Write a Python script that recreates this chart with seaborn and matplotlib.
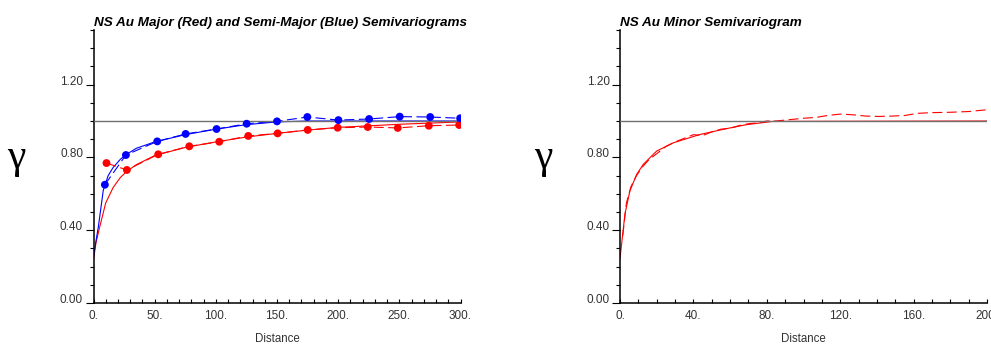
import matplotlib
matplotlib.use("Agg")
import matplotlib.pyplot as plt
import seaborn as sns
from matplotlib.ticker import MultipleLocator

# ---------------- data ----------------
major_lag = [10.6, 27.3, 52.9, 78.3, 102.8, 126.5, 150.5, 175.1, 199.6, 224.2, 248.7, 274.1, 298.9]
major_gam = [0.769, 0.731, 0.817, 0.861, 0.886, 0.918, 0.932, 0.951, 0.963, 0.967, 0.962, 0.974, 0.978]
semi_lag = [9.3, 26.5, 52.1, 75.3, 100.6, 125.2, 150.0, 174.8, 200.2, 225.3, 250.3, 275.2, 299.7]
semi_gam = [0.650, 0.813, 0.888, 0.929, 0.956, 0.985, 0.998, 1.022, 1.005, 1.011, 1.024, 1.022, 1.015]

major_model_x = [0, 2, 5, 10, 16, 22, 27, 35, 50, 75, 100, 125, 150, 175, 200, 250, 300]
major_model_y = [0.238, 0.33, 0.416, 0.55, 0.634, 0.69, 0.722, 0.76, 0.81, 0.855, 0.885, 0.912,
                 0.932, 0.95, 0.965, 0.982, 0.995]
semi_model_x = [0, 2, 4, 8, 12, 16, 22, 27, 35, 50, 75, 100, 125, 150, 175, 300]
semi_model_y = [0.253, 0.34, 0.42, 0.62, 0.70, 0.744, 0.79, 0.817, 0.85, 0.885, 0.925, 0.955,
                0.98, 0.995, 1.0, 1.0]

minor_lag = [1.5, 3.5, 6, 9, 12, 16, 20, 25, 30, 35, 40, 45, 50, 55, 60, 65, 70, 75, 80, 85,
             90, 95, 100, 107, 113, 120, 127, 134, 141, 148, 155, 162, 170, 180, 190, 200]
minor_gam = [0.37, 0.55, 0.64, 0.70, 0.745, 0.79, 0.82, 0.86, 0.885, 0.905, 0.925, 0.92, 0.94,
             0.955, 0.96, 0.975, 0.985, 0.99, 1.0, 1.0, 1.005, 1.01, 1.015, 1.02, 1.03, 1.038,
             1.034, 1.027, 1.025, 1.027, 1.03, 1.042, 1.046, 1.048, 1.052, 1.062]
minor_model_x = [0, 2.7, 5.4, 9.1, 12.7, 20, 29, 43.6, 58, 69, 83.5, 200]
minor_model_y = [0.244, 0.489, 0.616, 0.707, 0.762, 0.835, 0.880, 0.926, 0.958, 0.980, 0.998, 1.0]

sill = 1.0
titles = ["NS Au Major (Red) and Semi-Major (Blue) Semivariograms", "NS Au Minor Semivariogram"]
xlabel = "Distance"
ylabel = "\u03b3"
ytick_vals = [0.0, 0.4, 0.8, 1.2]

# ---------------- styling ----------------
sns.set_style("ticks")
plt.rcParams["font.family"] = ["Liberation Sans", "DejaVu Sans"]

RED = "#ff0000"
BLUE = "#0000ff"
GRAY = "#707070"
DASH = (9, 4)

fig = plt.figure(figsize=(9.91, 3.45), dpi=100)
W, H = 991, 345


def axes_px(x0, x1, ytop, ybot):
    return fig.add_axes([x0 / W, 1 - ybot / H, (x1 - x0) / W, (ybot - ytop) / H])


ax1 = axes_px(93.5, 460.5, 30, 303)
ax2 = axes_px(620, 987, 30, 303)


def style(ax, xmax, xmajor, title):
    ax.set_xlim(0, xmax)
    ax.set_ylim(0, 1.5)
    for s in ["top", "right"]:
        ax.spines[s].set_visible(False)
    for s in ["left", "bottom"]:
        ax.spines[s].set_color("black")
        ax.spines[s].set_linewidth(1.1)
    ax.xaxis.set_major_locator(MultipleLocator(xmajor))
    ax.xaxis.set_minor_locator(MultipleLocator(10))
    ax.yaxis.set_minor_locator(MultipleLocator(0.1))
    ax.tick_params(axis="x", which="both", bottom=True, top=False, direction="in", length=3,
                   width=0.8, colors="black", labelcolor="#333333", labelsize=8.5, pad=5)
    ax.tick_params(axis="y", which="major", left=True, right=False, direction="out", length=6,
                   width=0.8, colors="black", labelcolor="#333333", labelsize=8.5, pad=1.5)
    ax.tick_params(axis="y", which="minor", left=True, right=False, direction="out", length=3,
                   width=0.8, colors="black")
    ax.set_xticks(ax.get_xticks())
    ax.set_xticklabels([f"{int(v)}." for v in ax.get_xticks()])
    ax.set_xlim(0, xmax)
    ax.set_yticks(ytick_vals)
    ax.set_yticklabels([f"{v:.2f}" for v in ytick_vals])
    ax.set_ylim(0, 1.5)
    for lab in ax.get_yticklabels():
        lab.set_va("baseline")
    ax.set_xlabel(xlabel, fontsize=8.3, color="#333333", labelpad=8)
    ax.set_ylabel("")
    ax.set_title(title, loc="left", fontsize=9.7, fontweight="bold", fontstyle="italic",
                 pad=3, color="black")
    ax.grid(False)


# left panel
sns.lineplot(x=major_model_x, y=major_model_y, ax=ax1, color=RED, lw=0.8, sort=False)
sns.lineplot(x=semi_model_x, y=semi_model_y, ax=ax1, color=BLUE, lw=0.8, sort=False)
sns.lineplot(x=major_lag, y=major_gam, ax=ax1, color=RED, lw=0.8, sort=False,
             linestyle=(0, DASH))
sns.lineplot(x=semi_lag, y=semi_gam, ax=ax1, color=BLUE, lw=0.8, sort=False,
             linestyle=(0, DASH))
sns.scatterplot(x=major_lag, y=major_gam, ax=ax1, color=RED, s=32, edgecolor="none", zorder=5)
sns.scatterplot(x=semi_lag, y=semi_gam, ax=ax1, color=BLUE, s=32, edgecolor="none", zorder=5)
ax1.axhline(sill, color=GRAY, lw=1.0, zorder=4)
style(ax1, 300, 50, titles[0])

# right panel
sns.lineplot(x=minor_model_x, y=minor_model_y, ax=ax2, color=RED, lw=0.8, sort=False)
sns.lineplot(x=minor_lag, y=minor_gam, ax=ax2, color=RED, lw=0.8, sort=False,
             linestyle=(0, DASH))
ax2.axhline(sill, color=GRAY, lw=1.0, zorder=4)
style(ax2, 200, 40, titles[1])

for xp in (16, 543):
    fig.text(xp / W, 1 - 158 / H, ylabel, fontsize=30, ha="center", va="center",
             family=["Liberation Serif", "DejaVu Serif"], color="black")

fig.savefig("out.png", dpi=100)
